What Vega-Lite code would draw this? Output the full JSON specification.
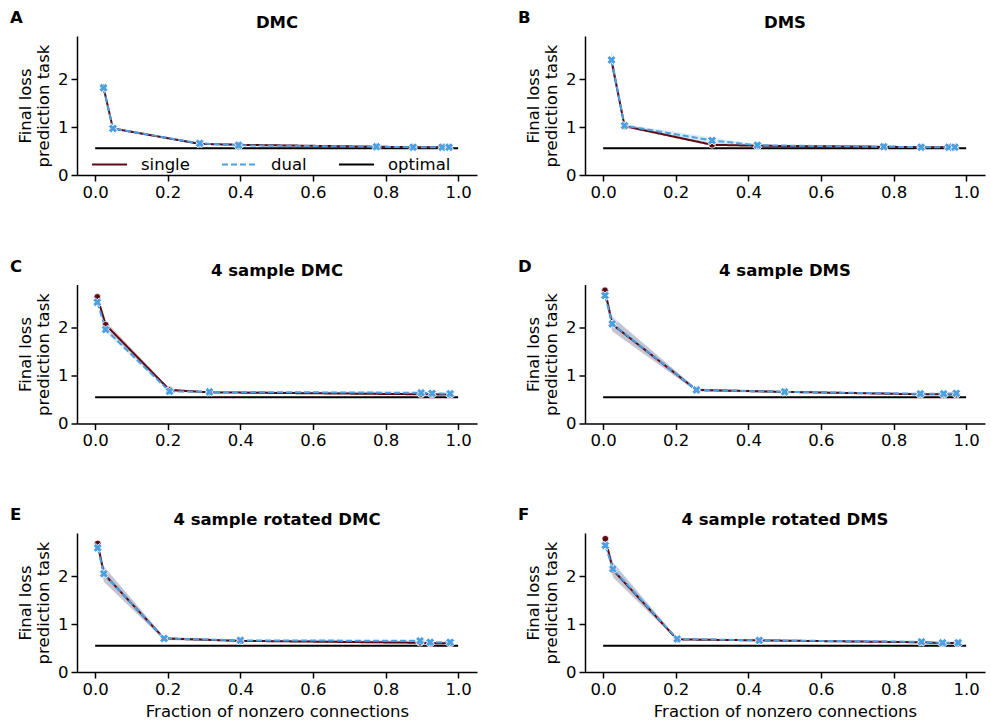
{
  "$schema": "https://vega.github.io/schema/vega-lite/v6.json",
  "padding": {"left": 10, "top": 10, "right": 2, "bottom": 2},
  "background": "white",
  "datasets": {
    "d": [
      {"p":"A","s":"optimal","x":0,"y":0.56},{"p":"A","s":"optimal","x":1,"y":0.56},
      {"p":"A","s":"single","x":0.023,"y":1.83,"lo":1.8,"hi":1.86},
      {"p":"A","s":"single","x":0.049,"y":0.97,"lo":0.95,"hi":0.99},
      {"p":"A","s":"single","x":0.288,"y":0.65,"lo":0.63,"hi":0.67},
      {"p":"A","s":"single","x":0.395,"y":0.63,"lo":0.61,"hi":0.65},
      {"p":"A","s":"single","x":0.775,"y":0.59,"lo":0.58,"hi":0.6},
      {"p":"A","s":"single","x":0.876,"y":0.58,"lo":0.57,"hi":0.59},
      {"p":"A","s":"single","x":0.956,"y":0.58,"lo":0.57,"hi":0.59},
      {"p":"A","s":"single","x":0.975,"y":0.58,"lo":0.57,"hi":0.59},
      {"p":"A","s":"dual","x":0.023,"y":1.82,"lo":1.79,"hi":1.86},
      {"p":"A","s":"dual","x":0.049,"y":0.97,"lo":0.95,"hi":0.99},
      {"p":"A","s":"dual","x":0.288,"y":0.66,"lo":0.64,"hi":0.68},
      {"p":"A","s":"dual","x":0.395,"y":0.62,"lo":0.61,"hi":0.64},
      {"p":"A","s":"dual","x":0.775,"y":0.59,"lo":0.58,"hi":0.6},
      {"p":"A","s":"dual","x":0.876,"y":0.58,"lo":0.57,"hi":0.59},
      {"p":"A","s":"dual","x":0.956,"y":0.58,"lo":0.57,"hi":0.59},
      {"p":"A","s":"dual","x":0.975,"y":0.58,"lo":0.57,"hi":0.59},

      {"p":"B","s":"optimal","x":0,"y":0.56},{"p":"B","s":"optimal","x":1,"y":0.56},
      {"p":"B","s":"single","x":0.023,"y":2.39,"lo":2.25,"hi":2.55},
      {"p":"B","s":"single","x":0.059,"y":1.02,"lo":0.99,"hi":1.05},
      {"p":"B","s":"single","x":0.3,"y":0.63,"lo":0.61,"hi":0.66},
      {"p":"B","s":"single","x":0.425,"y":0.61,"lo":0.6,"hi":0.63},
      {"p":"B","s":"single","x":0.773,"y":0.59,"lo":0.58,"hi":0.6},
      {"p":"B","s":"single","x":0.876,"y":0.58,"lo":0.57,"hi":0.59},
      {"p":"B","s":"single","x":0.952,"y":0.58,"lo":0.57,"hi":0.59},
      {"p":"B","s":"single","x":0.969,"y":0.58,"lo":0.57,"hi":0.59},
      {"p":"B","s":"dual","x":0.023,"y":2.4,"lo":2.2,"hi":2.62},
      {"p":"B","s":"dual","x":0.059,"y":1.03,"lo":1.0,"hi":1.06},
      {"p":"B","s":"dual","x":0.3,"y":0.72,"lo":0.66,"hi":0.78},
      {"p":"B","s":"dual","x":0.425,"y":0.62,"lo":0.6,"hi":0.64},
      {"p":"B","s":"dual","x":0.773,"y":0.59,"lo":0.58,"hi":0.6},
      {"p":"B","s":"dual","x":0.876,"y":0.58,"lo":0.57,"hi":0.59},
      {"p":"B","s":"dual","x":0.952,"y":0.58,"lo":0.57,"hi":0.59},
      {"p":"B","s":"dual","x":0.969,"y":0.58,"lo":0.57,"hi":0.59},

      {"p":"C","s":"optimal","x":0,"y":0.55},{"p":"C","s":"optimal","x":1,"y":0.55},
      {"p":"C","s":"single","x":0.006,"y":2.64,"lo":2.6,"hi":2.68},
      {"p":"C","s":"single","x":0.029,"y":2.06,"lo":1.98,"hi":2.14},
      {"p":"C","s":"single","x":0.205,"y":0.7,"lo":0.67,"hi":0.73},
      {"p":"C","s":"single","x":0.315,"y":0.65,"lo":0.64,"hi":0.67},
      {"p":"C","s":"single","x":0.898,"y":0.61,"lo":0.6,"hi":0.63},
      {"p":"C","s":"single","x":0.928,"y":0.61,"lo":0.6,"hi":0.63},
      {"p":"C","s":"single","x":0.978,"y":0.6,"lo":0.59,"hi":0.62},
      {"p":"C","s":"dual","x":0.006,"y":2.53,"lo":2.48,"hi":2.58},
      {"p":"C","s":"dual","x":0.029,"y":1.96,"lo":1.9,"hi":2.03},
      {"p":"C","s":"dual","x":0.205,"y":0.67,"lo":0.65,"hi":0.7},
      {"p":"C","s":"dual","x":0.315,"y":0.66,"lo":0.64,"hi":0.68},
      {"p":"C","s":"dual","x":0.898,"y":0.64,"lo":0.62,"hi":0.66},
      {"p":"C","s":"dual","x":0.928,"y":0.63,"lo":0.61,"hi":0.65},
      {"p":"C","s":"dual","x":0.978,"y":0.62,"lo":0.6,"hi":0.64},

      {"p":"D","s":"optimal","x":0,"y":0.55},{"p":"D","s":"optimal","x":1,"y":0.55},
      {"p":"D","s":"single","x":0.005,"y":2.78,"lo":2.74,"hi":2.82},
      {"p":"D","s":"single","x":0.025,"y":2.07,"lo":1.92,"hi":2.22},
      {"p":"D","s":"single","x":0.257,"y":0.7,"lo":0.67,"hi":0.73},
      {"p":"D","s":"single","x":0.5,"y":0.66,"lo":0.64,"hi":0.68},
      {"p":"D","s":"single","x":0.874,"y":0.61,"lo":0.6,"hi":0.63},
      {"p":"D","s":"single","x":0.938,"y":0.61,"lo":0.6,"hi":0.63},
      {"p":"D","s":"single","x":0.973,"y":0.6,"lo":0.58,"hi":0.62},
      {"p":"D","s":"dual","x":0.005,"y":2.67,"lo":2.62,"hi":2.72},
      {"p":"D","s":"dual","x":0.025,"y":2.08,"lo":1.94,"hi":2.24},
      {"p":"D","s":"dual","x":0.257,"y":0.7,"lo":0.67,"hi":0.73},
      {"p":"D","s":"dual","x":0.5,"y":0.66,"lo":0.64,"hi":0.68},
      {"p":"D","s":"dual","x":0.874,"y":0.62,"lo":0.6,"hi":0.64},
      {"p":"D","s":"dual","x":0.938,"y":0.62,"lo":0.6,"hi":0.64},
      {"p":"D","s":"dual","x":0.973,"y":0.63,"lo":0.58,"hi":0.68},

      {"p":"E","s":"optimal","x":0,"y":0.55},{"p":"E","s":"optimal","x":1,"y":0.55},
      {"p":"E","s":"single","x":0.007,"y":2.68,"lo":2.64,"hi":2.72},
      {"p":"E","s":"single","x":0.024,"y":2.05,"lo":1.88,"hi":2.2},
      {"p":"E","s":"single","x":0.19,"y":0.7,"lo":0.67,"hi":0.73},
      {"p":"E","s":"single","x":0.4,"y":0.65,"lo":0.63,"hi":0.67},
      {"p":"E","s":"single","x":0.895,"y":0.61,"lo":0.59,"hi":0.63},
      {"p":"E","s":"single","x":0.923,"y":0.6,"lo":0.59,"hi":0.62},
      {"p":"E","s":"single","x":0.978,"y":0.6,"lo":0.59,"hi":0.62},
      {"p":"E","s":"dual","x":0.007,"y":2.59,"lo":2.55,"hi":2.63},
      {"p":"E","s":"dual","x":0.024,"y":2.05,"lo":1.9,"hi":2.2},
      {"p":"E","s":"dual","x":0.19,"y":0.7,"lo":0.67,"hi":0.73},
      {"p":"E","s":"dual","x":0.4,"y":0.66,"lo":0.64,"hi":0.68},
      {"p":"E","s":"dual","x":0.895,"y":0.65,"lo":0.63,"hi":0.67},
      {"p":"E","s":"dual","x":0.923,"y":0.62,"lo":0.6,"hi":0.64},
      {"p":"E","s":"dual","x":0.978,"y":0.62,"lo":0.6,"hi":0.64},

      {"p":"F","s":"optimal","x":0,"y":0.55},{"p":"F","s":"optimal","x":1,"y":0.55},
      {"p":"F","s":"single","x":0.006,"y":2.78,"lo":2.75,"hi":2.81},
      {"p":"F","s":"single","x":0.027,"y":2.13,"lo":1.97,"hi":2.28},
      {"p":"F","s":"single","x":0.204,"y":0.68,"lo":0.66,"hi":0.7},
      {"p":"F","s":"single","x":0.43,"y":0.66,"lo":0.64,"hi":0.68},
      {"p":"F","s":"single","x":0.877,"y":0.62,"lo":0.6,"hi":0.64},
      {"p":"F","s":"single","x":0.935,"y":0.6,"lo":0.59,"hi":0.62},
      {"p":"F","s":"single","x":0.978,"y":0.61,"lo":0.59,"hi":0.63},
      {"p":"F","s":"dual","x":0.006,"y":2.64,"lo":2.6,"hi":2.68},
      {"p":"F","s":"dual","x":0.027,"y":2.15,"lo":2.0,"hi":2.3},
      {"p":"F","s":"dual","x":0.204,"y":0.69,"lo":0.67,"hi":0.71},
      {"p":"F","s":"dual","x":0.43,"y":0.66,"lo":0.64,"hi":0.68},
      {"p":"F","s":"dual","x":0.877,"y":0.63,"lo":0.61,"hi":0.65},
      {"p":"F","s":"dual","x":0.935,"y":0.61,"lo":0.6,"hi":0.63},
      {"p":"F","s":"dual","x":0.978,"y":0.61,"lo":0.59,"hi":0.63}
    ]
  },
  "columns": 2,
  "spacing": {"row": 57.5, "column": 41},
  "resolve": {"scale": {"color": "independent", "strokeDash": "independent"}, "legend": {"color": "independent", "strokeDash": "independent"}},
  "concat": [
    {
      "title": {"text": "A", "anchor": "start", "frame": "bounds", "dx": -7, "offset": -12},
      "resolve": {"scale": {"color": "independent", "strokeDash": "independent"}, "legend": {"color": "independent", "strokeDash": "independent"}},
      "vconcat": [{
        "title": {"text": "DMC", "anchor": "middle", "frame": "group", "offset": 5},
        "width": 400, "height": 139,
        "data": {"name": "d"},
        "transform": [{"filter": "datum.p === 'A'"}],
        "encoding": {
          "x": {"field": "x", "type": "quantitative", "scale": {"domain": [-0.05, 1.052], "nice": false, "zero": false}, "axis": {"values": [0, 0.2, 0.4, 0.6, 0.8, 1.0], "format": ".1f", "title": null}},
          "y": {"field": "y", "type": "quantitative", "scale": {"domain": [0, 2.9], "nice": false}, "axis": {"values": [0, 1, 2], "title": ["Final loss", "prediction task"]}}
        },
        "layer": [
          {"transform": [{"filter": "datum.s === 'single'"}], "mark": {"type": "area", "color": "#5c0a14", "opacity": 0.2}, "encoding": {"y": {"field": "lo", "type": "quantitative"}, "y2": {"field": "hi"}}},
          {"transform": [{"filter": "datum.s === 'dual'"}], "mark": {"type": "area", "color": "#4c9fe0", "opacity": 0.2}, "encoding": {"y": {"field": "lo", "type": "quantitative"}, "y2": {"field": "hi"}}},
          {"mark": {"type": "line", "strokeWidth": 2},
           "encoding": {
             "color": {"field": "s", "type": "nominal", "scale": {"domain": ["single", "dual", "optimal"], "range": ["#5c0a14", "#4c9fe0", "black"]}, "legend": {"title": null, "orient": "none", "legendX": 14, "legendY": 110, "direction": "horizontal", "columns": 3}},
             "strokeDash": {"field": "s", "type": "nominal", "scale": {"domain": ["single", "dual", "optimal"], "range": [[1, 0], [6, 3], [1, 0]]}, "legend": {"title": null, "orient": "none", "legendX": 14, "legendY": 110, "direction": "horizontal", "columns": 3}}
           }},
          {"transform": [{"filter": "datum.s === 'single'"}], "mark": {"type": "point", "shape": "circle", "filled": true, "fill": "#5c0a14", "stroke": "white", "strokeWidth": 0.8, "size": 45, "opacity": 1}},
          {"transform": [{"filter": "datum.s === 'dual'"}], "mark": {"type": "point", "shape": "cross", "angle": 45, "filled": true, "fill": "#4c9fe0", "stroke": "white", "strokeWidth": 0.8, "size": 80, "opacity": 1}}
        ]
      }]
    },
    {
      "title": {"text": "B", "anchor": "start", "frame": "bounds", "dx": -7, "offset": -12},
      "resolve": {"scale": {"color": "independent", "strokeDash": "independent"}, "legend": {"color": "independent", "strokeDash": "independent"}},
      "vconcat": [{
        "title": {"text": "DMS", "anchor": "middle", "frame": "group", "offset": 5},
        "width": 400, "height": 139,
        "data": {"name": "d"},
        "transform": [{"filter": "datum.p === 'B'"}],
        "encoding": {
          "x": {"field": "x", "type": "quantitative", "scale": {"domain": [-0.05, 1.052], "nice": false, "zero": false}, "axis": {"values": [0, 0.2, 0.4, 0.6, 0.8, 1.0], "format": ".1f", "title": null}},
          "y": {"field": "y", "type": "quantitative", "scale": {"domain": [0, 2.9], "nice": false}, "axis": {"values": [0, 1, 2], "title": ["Final loss", "prediction task"]}}
        },
        "layer": [
          {"transform": [{"filter": "datum.s === 'single'"}], "mark": {"type": "area", "color": "#5c0a14", "opacity": 0.2}, "encoding": {"y": {"field": "lo", "type": "quantitative"}, "y2": {"field": "hi"}}},
          {"transform": [{"filter": "datum.s === 'dual'"}], "mark": {"type": "area", "color": "#4c9fe0", "opacity": 0.2}, "encoding": {"y": {"field": "lo", "type": "quantitative"}, "y2": {"field": "hi"}}},
          {"mark": {"type": "line", "strokeWidth": 2},
           "encoding": {
             "color": {"field": "s", "type": "nominal", "scale": {"domain": ["single", "dual", "optimal"], "range": ["#5c0a14", "#4c9fe0", "black"]}, "legend": null},
             "strokeDash": {"field": "s", "type": "nominal", "scale": {"domain": ["single", "dual", "optimal"], "range": [[1, 0], [6, 3], [1, 0]]}, "legend": null}
           }},
          {"transform": [{"filter": "datum.s === 'single'"}], "mark": {"type": "point", "shape": "circle", "filled": true, "fill": "#5c0a14", "stroke": "white", "strokeWidth": 0.8, "size": 45, "opacity": 1}},
          {"transform": [{"filter": "datum.s === 'dual'"}], "mark": {"type": "point", "shape": "cross", "angle": 45, "filled": true, "fill": "#4c9fe0", "stroke": "white", "strokeWidth": 0.8, "size": 80, "opacity": 1}}
        ]
      }]
    },
    {
      "title": {"text": "C", "anchor": "start", "frame": "bounds", "dx": -7, "offset": -12},
      "resolve": {"scale": {"color": "independent", "strokeDash": "independent"}, "legend": {"color": "independent", "strokeDash": "independent"}},
      "vconcat": [{
        "title": {"text": "4 sample DMC", "anchor": "middle", "frame": "group", "offset": 5},
        "width": 400, "height": 139,
        "data": {"name": "d"},
        "transform": [{"filter": "datum.p === 'C'"}],
        "encoding": {
          "x": {"field": "x", "type": "quantitative", "scale": {"domain": [-0.05, 1.052], "nice": false, "zero": false}, "axis": {"values": [0, 0.2, 0.4, 0.6, 0.8, 1.0], "format": ".1f", "title": null}},
          "y": {"field": "y", "type": "quantitative", "scale": {"domain": [0, 2.9], "nice": false}, "axis": {"values": [0, 1, 2], "title": ["Final loss", "prediction task"]}}
        },
        "layer": [
          {"transform": [{"filter": "datum.s === 'single'"}], "mark": {"type": "area", "color": "#5c0a14", "opacity": 0.2}, "encoding": {"y": {"field": "lo", "type": "quantitative"}, "y2": {"field": "hi"}}},
          {"transform": [{"filter": "datum.s === 'dual'"}], "mark": {"type": "area", "color": "#4c9fe0", "opacity": 0.2}, "encoding": {"y": {"field": "lo", "type": "quantitative"}, "y2": {"field": "hi"}}},
          {"mark": {"type": "line", "strokeWidth": 2},
           "encoding": {
             "color": {"field": "s", "type": "nominal", "scale": {"domain": ["single", "dual", "optimal"], "range": ["#5c0a14", "#4c9fe0", "black"]}, "legend": null},
             "strokeDash": {"field": "s", "type": "nominal", "scale": {"domain": ["single", "dual", "optimal"], "range": [[1, 0], [6, 3], [1, 0]]}, "legend": null}
           }},
          {"transform": [{"filter": "datum.s === 'single'"}], "mark": {"type": "point", "shape": "circle", "filled": true, "fill": "#5c0a14", "stroke": "white", "strokeWidth": 0.8, "size": 45, "opacity": 1}},
          {"transform": [{"filter": "datum.s === 'dual'"}], "mark": {"type": "point", "shape": "cross", "angle": 45, "filled": true, "fill": "#4c9fe0", "stroke": "white", "strokeWidth": 0.8, "size": 80, "opacity": 1}}
        ]
      }]
    },
    {
      "title": {"text": "D", "anchor": "start", "frame": "bounds", "dx": -7, "offset": -12},
      "resolve": {"scale": {"color": "independent", "strokeDash": "independent"}, "legend": {"color": "independent", "strokeDash": "independent"}},
      "vconcat": [{
        "title": {"text": "4 sample DMS", "anchor": "middle", "frame": "group", "offset": 5},
        "width": 400, "height": 139,
        "data": {"name": "d"},
        "transform": [{"filter": "datum.p === 'D'"}],
        "encoding": {
          "x": {"field": "x", "type": "quantitative", "scale": {"domain": [-0.05, 1.052], "nice": false, "zero": false}, "axis": {"values": [0, 0.2, 0.4, 0.6, 0.8, 1.0], "format": ".1f", "title": null}},
          "y": {"field": "y", "type": "quantitative", "scale": {"domain": [0, 2.9], "nice": false}, "axis": {"values": [0, 1, 2], "title": ["Final loss", "prediction task"]}}
        },
        "layer": [
          {"transform": [{"filter": "datum.s === 'single'"}], "mark": {"type": "area", "color": "#5c0a14", "opacity": 0.2}, "encoding": {"y": {"field": "lo", "type": "quantitative"}, "y2": {"field": "hi"}}},
          {"transform": [{"filter": "datum.s === 'dual'"}], "mark": {"type": "area", "color": "#4c9fe0", "opacity": 0.2}, "encoding": {"y": {"field": "lo", "type": "quantitative"}, "y2": {"field": "hi"}}},
          {"mark": {"type": "line", "strokeWidth": 2},
           "encoding": {
             "color": {"field": "s", "type": "nominal", "scale": {"domain": ["single", "dual", "optimal"], "range": ["#5c0a14", "#4c9fe0", "black"]}, "legend": null},
             "strokeDash": {"field": "s", "type": "nominal", "scale": {"domain": ["single", "dual", "optimal"], "range": [[1, 0], [6, 3], [1, 0]]}, "legend": null}
           }},
          {"transform": [{"filter": "datum.s === 'single'"}], "mark": {"type": "point", "shape": "circle", "filled": true, "fill": "#5c0a14", "stroke": "white", "strokeWidth": 0.8, "size": 45, "opacity": 1}},
          {"transform": [{"filter": "datum.s === 'dual'"}], "mark": {"type": "point", "shape": "cross", "angle": 45, "filled": true, "fill": "#4c9fe0", "stroke": "white", "strokeWidth": 0.8, "size": 80, "opacity": 1}}
        ]
      }]
    },
    {
      "title": {"text": "E", "anchor": "start", "frame": "bounds", "dx": -7, "offset": -12},
      "resolve": {"scale": {"color": "independent", "strokeDash": "independent"}, "legend": {"color": "independent", "strokeDash": "independent"}},
      "vconcat": [{
        "title": {"text": "4 sample rotated DMC", "anchor": "middle", "frame": "group", "offset": 5},
        "width": 400, "height": 139,
        "data": {"name": "d"},
        "transform": [{"filter": "datum.p === 'E'"}],
        "encoding": {
          "x": {"field": "x", "type": "quantitative", "scale": {"domain": [-0.05, 1.052], "nice": false, "zero": false}, "axis": {"values": [0, 0.2, 0.4, 0.6, 0.8, 1.0], "format": ".1f", "title": "Fraction of nonzero connections"}},
          "y": {"field": "y", "type": "quantitative", "scale": {"domain": [0, 2.9], "nice": false}, "axis": {"values": [0, 1, 2], "title": ["Final loss", "prediction task"]}}
        },
        "layer": [
          {"transform": [{"filter": "datum.s === 'single'"}], "mark": {"type": "area", "color": "#5c0a14", "opacity": 0.2}, "encoding": {"y": {"field": "lo", "type": "quantitative"}, "y2": {"field": "hi"}}},
          {"transform": [{"filter": "datum.s === 'dual'"}], "mark": {"type": "area", "color": "#4c9fe0", "opacity": 0.2}, "encoding": {"y": {"field": "lo", "type": "quantitative"}, "y2": {"field": "hi"}}},
          {"mark": {"type": "line", "strokeWidth": 2},
           "encoding": {
             "color": {"field": "s", "type": "nominal", "scale": {"domain": ["single", "dual", "optimal"], "range": ["#5c0a14", "#4c9fe0", "black"]}, "legend": null},
             "strokeDash": {"field": "s", "type": "nominal", "scale": {"domain": ["single", "dual", "optimal"], "range": [[1, 0], [6, 3], [1, 0]]}, "legend": null}
           }},
          {"transform": [{"filter": "datum.s === 'single'"}], "mark": {"type": "point", "shape": "circle", "filled": true, "fill": "#5c0a14", "stroke": "white", "strokeWidth": 0.8, "size": 45, "opacity": 1}},
          {"transform": [{"filter": "datum.s === 'dual'"}], "mark": {"type": "point", "shape": "cross", "angle": 45, "filled": true, "fill": "#4c9fe0", "stroke": "white", "strokeWidth": 0.8, "size": 80, "opacity": 1}}
        ]
      }]
    },
    {
      "title": {"text": "F", "anchor": "start", "frame": "bounds", "dx": -7, "offset": -12},
      "resolve": {"scale": {"color": "independent", "strokeDash": "independent"}, "legend": {"color": "independent", "strokeDash": "independent"}},
      "vconcat": [{
        "title": {"text": "4 sample rotated DMS", "anchor": "middle", "frame": "group", "offset": 5},
        "width": 400, "height": 139,
        "data": {"name": "d"},
        "transform": [{"filter": "datum.p === 'F'"}],
        "encoding": {
          "x": {"field": "x", "type": "quantitative", "scale": {"domain": [-0.05, 1.052], "nice": false, "zero": false}, "axis": {"values": [0, 0.2, 0.4, 0.6, 0.8, 1.0], "format": ".1f", "title": "Fraction of nonzero connections"}},
          "y": {"field": "y", "type": "quantitative", "scale": {"domain": [0, 2.9], "nice": false}, "axis": {"values": [0, 1, 2], "title": ["Final loss", "prediction task"]}}
        },
        "layer": [
          {"transform": [{"filter": "datum.s === 'single'"}], "mark": {"type": "area", "color": "#5c0a14", "opacity": 0.2}, "encoding": {"y": {"field": "lo", "type": "quantitative"}, "y2": {"field": "hi"}}},
          {"transform": [{"filter": "datum.s === 'dual'"}], "mark": {"type": "area", "color": "#4c9fe0", "opacity": 0.2}, "encoding": {"y": {"field": "lo", "type": "quantitative"}, "y2": {"field": "hi"}}},
          {"mark": {"type": "line", "strokeWidth": 2},
           "encoding": {
             "color": {"field": "s", "type": "nominal", "scale": {"domain": ["single", "dual", "optimal"], "range": ["#5c0a14", "#4c9fe0", "black"]}, "legend": null},
             "strokeDash": {"field": "s", "type": "nominal", "scale": {"domain": ["single", "dual", "optimal"], "range": [[1, 0], [6, 3], [1, 0]]}, "legend": null}
           }},
          {"transform": [{"filter": "datum.s === 'single'"}], "mark": {"type": "point", "shape": "circle", "filled": true, "fill": "#5c0a14", "stroke": "white", "strokeWidth": 0.8, "size": 45, "opacity": 1}},
          {"transform": [{"filter": "datum.s === 'dual'"}], "mark": {"type": "point", "shape": "cross", "angle": 45, "filled": true, "fill": "#4c9fe0", "stroke": "white", "strokeWidth": 0.8, "size": 80, "opacity": 1}}
        ]
      }]
    }
  ],
  "config": {
    "font": "DejaVu Sans",
    "view": {"stroke": null},
    "title": {"font": "DejaVu Sans", "fontSize": 16.5, "fontWeight": "bold", "color": "black"},
    "axis": {"grid": false, "domainColor": "black", "domainWidth": 1.5, "tickColor": "black", "tickWidth": 1.5, "tickSize": 6, "labelFont": "DejaVu Sans", "labelFontSize": 16.5, "labelColor": "black", "labelPadding": 3, "titleFont": "DejaVu Sans", "titleFontSize": 16.5, "titleFontWeight": "normal", "titleColor": "black", "titlePadding": 6, "labelFlush": false},
    "legend": {"labelFont": "DejaVu Sans", "labelFontSize": 16.5, "labelColor": "black", "symbolType": "stroke", "symbolSize": 1225, "symbolStrokeWidth": 2, "labelOffset": 13, "columnPadding": 28, "padding": 0, "symbolOpacity": 1}
  }
}
